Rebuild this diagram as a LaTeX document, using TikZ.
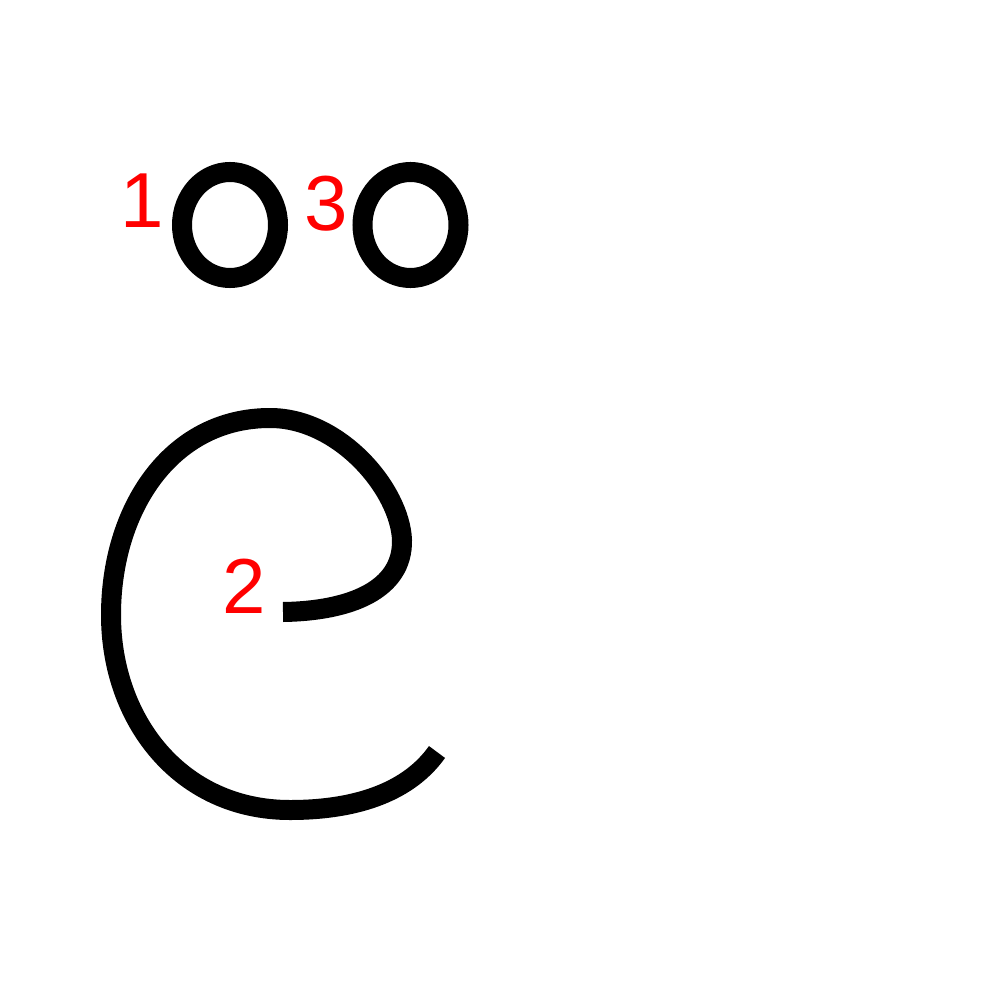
\documentclass[tikz,border=0pt]{standalone}
\usepackage{fontspec}
\setmainfont{Liberation Sans}
\begin{document}
\begin{tikzpicture}[x=1pt,y=-1pt,
  strk/.style={line width=20pt,black},
  num/.style={text=red,font=\fontsize{78}{78}\selectfont,inner sep=0pt,anchor=base}]
\fill[white] (0,0) rectangle (1000,1000);
\useasboundingbox (0,0) rectangle (1000,1000);
\draw[strk] (230,225) ellipse [x radius=48, y radius=53];
\draw[strk] (410.5,225) ellipse [x radius=48, y radius=53];
\draw[strk] (283,612) .. controls (350,611) and (403,590) .. (402,540)
  .. controls (400,490) and (340,418) .. (270,418)
  .. controls (170,418) and (111,510) .. (111,615)
  .. controls (111,720) and (180,810) .. (290,810)
  .. controls (360,810) and (410,790) .. (437,752);
\node[num] (n1) at (142,228) {1};
\node[num] (n2) at (244,613) {2};
\node[num] (n3) at (326,230) {3};
\end{tikzpicture}
\end{document}
